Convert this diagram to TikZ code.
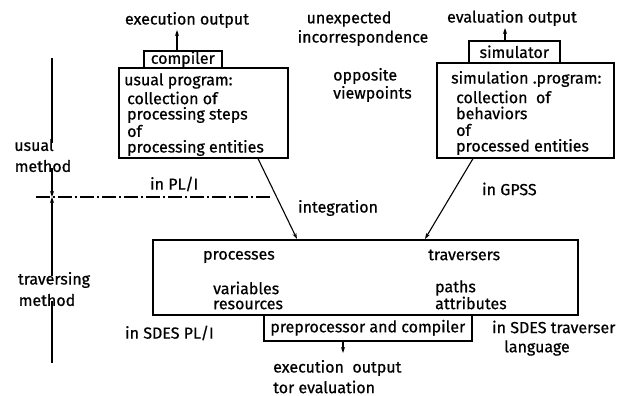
\documentclass[tikz,border=0pt]{standalone}
\usepackage{fontspec}
\setmainfont{Fira Sans}[FakeBold=0.6]
\usetikzlibrary{arrows.meta}
\begin{document}
\begin{tikzpicture}[x=1pt,y=-1pt,
  box/.style={draw, line width=1.6pt, inner sep=0pt, anchor=north west},
  txt/.style={inner sep=0pt, font=\fontsize{16}{16}\selectfont},
  ltxt/.style={txt, anchor=west},
  arr/.style={line width=1.1pt, -{Stealth[length=6pt,width=4pt]}},
  dimarr/.style={line width=1.3pt, -{Stealth[length=6pt,width=4pt]}},
  vline/.style={line width=1.3pt},
  dashdot/.style={line width=1.1pt, dash pattern=on 14pt off 3pt on 2pt off 3pt}]
\useasboundingbox[fill=white] (0,0) rectangle (625,396);

% top-left group
\node[box, minimum width=78pt, minimum height=17pt, font=\fontsize{16}{16}\selectfont] (comp) at (143,50) {compiler};
\node[box, minimum width=169pt, minimum height=90pt] (lbox) at (118,67) {};
\node[ltxt] (l1) at (124,81) {usual program:};
\node[ltxt] (l2) at (127,98) {collection of};
\node[ltxt] (l3) at (127,115) {processing steps};
\node[ltxt] (l4) at (127,131) {of};
\node[ltxt] (l5) at (127,148) {processing entities};
\node[txt] (eo) at (187,20) {execution output};
\coordinate (eoa) at (177,30);
\draw[arr] (comp.north -| eoa) -- (eoa);
\node[ltxt] (pli) at (150,184) {in PL/I};

% top-right group
\node[box, minimum width=91pt, minimum height=22pt, font=\fontsize{16}{16}\selectfont] (sim) at (468,40) {simulator};
\node[box, minimum width=177pt, minimum height=95pt] (rbox) at (436,62) {};
\node[ltxt] (r1) at (451,79) {simulation .program:};
\node[ltxt] (r2) at (456,97) {collection\ \ of};
\node[ltxt] (r3) at (456,113) {behaviors};
\node[ltxt] (r4) at (456,130) {of};
\node[ltxt] (r5) at (456,147) {processed entities};
\node[txt] (evo) at (512,18) {evaluation output};
\coordinate (evoa) at (505,28);
\draw[arr] (sim.north -| evoa) -- (evoa);
\node[ltxt] (gpss) at (482,189) {in GPSS};

% middle texts
\node[txt] (unexp) at (349,19) {unexpected};
\node[txt] (incorr) at (363,38) {incorrespondence};
\node[ltxt] (opp) at (333,76) {opposite};
\node[ltxt] (view) at (333,94) {viewpoints};
\node[ltxt] (integ) at (298,208) {integration};

% bottom box
\node[box, minimum width=425pt, minimum height=75pt] (bbox) at (152,239) {};
\node[box, minimum width=208pt, minimum height=26pt] (pbox) at (263,314) {};
\node[txt] (pc) at (pbox.center) {preprocessor and compiler};
\node[ltxt] (procs) at (203,257) {processes};
\node[ltxt] (vars) at (213,288) {variables};
\node[ltxt] (res) at (213,305) {resources};
\node[ltxt] (trav) at (428,255) {traversers};
\node[ltxt] (paths) at (435,288) {paths};
\node[ltxt] (attr) at (435,303) {attributes};
\node[ltxt] (sdespli) at (125,333) {in SDES PL/I};
\node[ltxt] (sdestr) at (492,327) {in SDES traverser};
\node[txt] (lang) at (537,348) {language};
\node[ltxt] (exo) at (273,368) {execution\ \ output};
\node[ltxt] (tev) at (273,387) {tor evaluation};
\coordinate (exa) at (343,353);
\draw[arr] (pbox.south -| exa) -- (exa);

% connectors to bottom box
\coordinate (la) at (258,157);
\coordinate (lb) at (297,239);
\coordinate (ra) at (473,157);
\coordinate (rb) at (425,239);
\draw[arr] (lbox.south -| la) -- (bbox.north -| lb);
\draw[arr] (rbox.south -| ra) -- (bbox.north -| rb);

% left dimension
\coordinate (cross) at (52,197);
\coordinate (dl) at (36,197);
\coordinate (dr) at (273,197);
\coordinate (vtop) at (52,58);
\coordinate (vbot) at (52,363);
\draw[dashdot] (dl) -- (dr);
\node[txt] (usual) at (34,145) {usual};
\node[txt] (meth1) at (43,166) {method};
\node[txt] (travm) at (54,280) {traversing};
\node[txt] (meth2) at (47,300) {method};
\draw[vline] (vtop) -- ([yshift=-4pt]vtop |- usual.north);
\draw[dimarr] ([yshift=4pt]cross |- meth1.south) -- (cross);
\draw[dimarr] ([yshift=-4pt]cross |- travm.north) -- (cross);
\draw[vline] ([yshift=5pt]cross |- meth2.south) -- (vbot);
\end{tikzpicture}
\end{document}
